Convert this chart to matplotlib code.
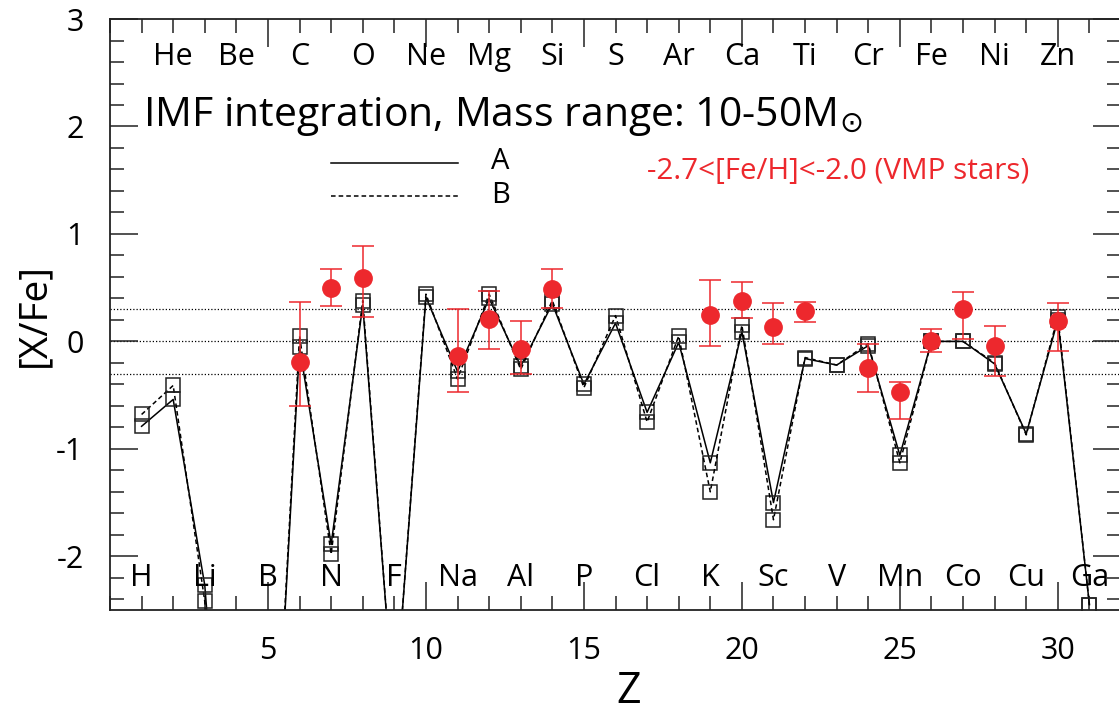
import numpy as np
import matplotlib
matplotlib.use("Agg")
import matplotlib.pyplot as plt
from matplotlib.ticker import MultipleLocator, FixedLocator

plt.rcParams["font.family"] = ["Open Sans", "DejaVu Sans"]
plt.rcParams["mathtext.fontset"] = "dejavusans"
plt.rcParams["axes.unicode_minus"] = False

# model yields, Z = 1..31 (Be, B, F fall far below the plot)
z_model = np.arange(1, 32)
xfe_a = [-0.79, -0.54, -2.27, -6.0, -5.4, -0.05, -1.89, 0.34, -3.5, 0.41,
         -0.28, 0.40, -0.23, 0.35, -0.40, 0.17, -0.66, -0.01, -1.13, 0.09,
         -1.50, -0.16, -0.22, -0.04, -1.06, 0.0, 0.0, -0.21, -0.86, 0.20, -2.45]
xfe_b = [-0.68, -0.41, -2.42, -6.0, -5.4, 0.05, -1.98, 0.38, -3.5, 0.44,
         -0.35, 0.44, -0.26, 0.38, -0.43, 0.24, -0.75, 0.05, -1.40, 0.15,
         -1.66, -0.15, -0.22, -0.02, -1.13, 0.0, 0.0, -0.20, -0.87, 0.23, -2.45]

# VMP star observations
z_obs = [6, 7, 8, 11, 12, 13, 14, 19, 20, 21, 22, 24, 25, 26, 27, 28, 30]
xfe_obs = [-0.19, 0.50, 0.59, -0.14, 0.21, -0.07, 0.49, 0.25, 0.38, 0.13,
           0.28, -0.25, -0.47, 0.0, 0.30, -0.04, 0.19]
obs_hi = [0.37, 0.67, 0.89, 0.30, 0.47, 0.19, 0.67, 0.57, 0.55, 0.36,
          0.37, -0.02, -0.38, 0.12, 0.46, 0.14, 0.36]
obs_lo = [-0.60, 0.33, 0.23, -0.47, -0.07, -0.30, 0.31, -0.04, 0.22, -0.02,
          0.18, -0.47, -0.72, -0.10, 0.02, -0.32, -0.09]

elements = ["H", "He", "Li", "Be", "B", "C", "N", "O", "F", "Ne", "Na", "Mg",
            "Al", "Si", "P", "S", "Cl", "Ar", "K", "Ca", "Sc", "Ti", "V", "Cr",
            "Mn", "Fe", "Co", "Ni", "Cu", "Zn", "Ga"]

red = "#ED282D"

fig = plt.figure(figsize=(11.19, 7.16), dpi=100)
ax = fig.add_axes([0.0983, 0.148, 0.9035, 0.8254])

for y in (0.3, 0.0, -0.3):
    ax.axhline(y, color="black", ls=(0, (1, 1.6)), lw=0.9, zorder=1)

ax.plot(z_model, xfe_a, "-", color="black", lw=1.1, marker="s", ms=9.5,
        mfc="none", mec="#222222", mew=1.1, zorder=2)
ax.plot(z_model, xfe_b, "--", color="black", lw=1.1, marker="s", ms=9.5,
        mfc="none", mec="#222222", mew=1.1, dashes=(3, 2), zorder=2)

err = [np.array(xfe_obs) - np.array(obs_lo), np.array(obs_hi) - np.array(xfe_obs)]
ax.errorbar(z_obs, xfe_obs, yerr=err, fmt="o", color=red, ms=12.5, mec=red,
            ecolor=red, elinewidth=1.1, capsize=8, capthick=1.1, zorder=4)

# element names: even Z on top, odd Z at bottom
for z, name in zip(z_model, elements):
    if z % 2 == 0:
        ax.text(z, 2.65, name, ha="center", va="center", fontsize=22)
    else:
        ax.text(z, -2.2, name, ha="center", va="center", fontsize=22)

ax.text(1.05, 2.0, r"IMF integration, Mass range: 10-50M$_{\odot}$",
        ha="left", va="baseline", fontsize=29.5)

ax.plot([7, 11], [1.66, 1.66], "-", color="black", lw=1.1)
ax.plot([7, 11], [1.35, 1.35], "--", color="black", lw=1.1, dashes=(3, 2))
ax.text(12.05, 1.67, "A", ha="left", va="center", fontsize=21)
ax.text(12.05, 1.36, "B", ha="left", va="center", fontsize=21)
ax.text(17.0, 1.51, "-2.7<[Fe/H]<-2.0 (VMP stars)", ha="left",
        va="baseline", fontsize=21.3, color=red)

ax.set_xlim(0, 32)
ax.set_ylim(-2.5, 3)
ax.xaxis.set_major_locator(FixedLocator([5, 10, 15, 20, 25, 30]))
ax.xaxis.set_minor_locator(MultipleLocator(1))
ax.yaxis.set_major_locator(MultipleLocator(1))
ax.yaxis.set_minor_locator(MultipleLocator(0.2))
ax.tick_params(which="both", direction="in", top=True, right=True,
               labelsize=22, pad=19, width=1.1, color="#222222")
ax.tick_params(which="major", length=20)
ax.tick_params(which="minor", length=10)
for s in ax.spines.values():
    s.set_linewidth(1.3)
    s.set_color("#222222")

ax.set_xlabel("Z", fontsize=31)
ax.xaxis.set_label_coords(0.513, -0.1)
ax.set_ylabel("[X/Fe]", fontsize=28, labelpad=2)

fig.savefig("out.png", dpi=100)
